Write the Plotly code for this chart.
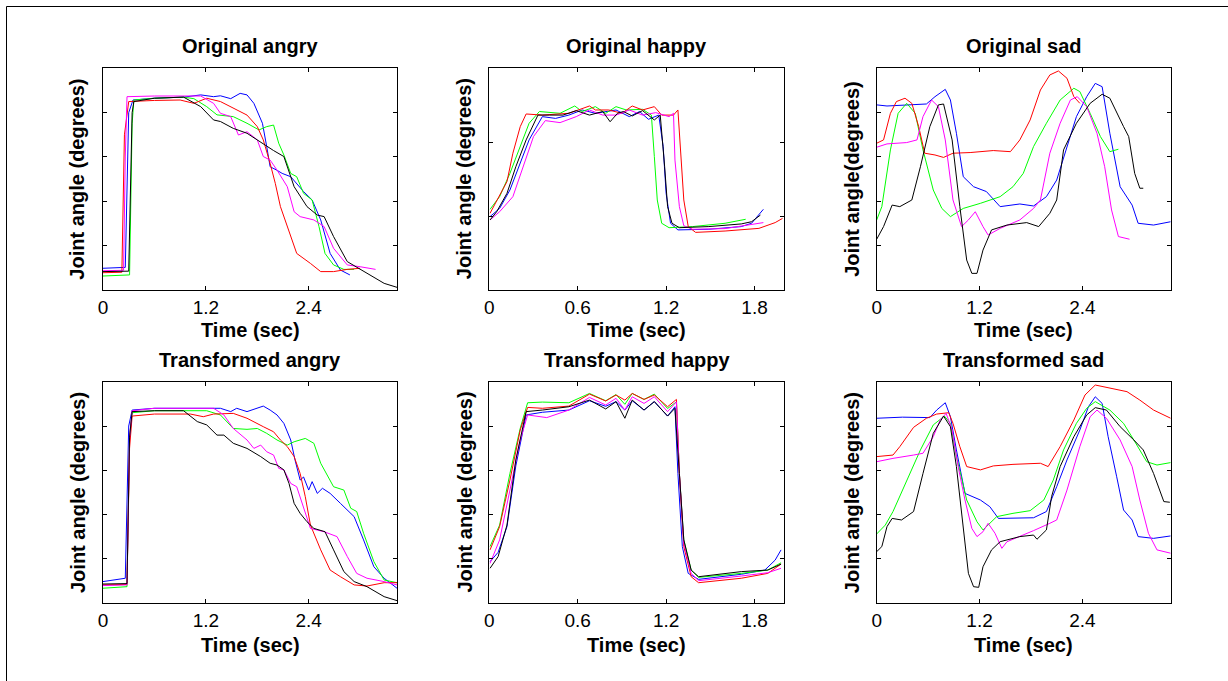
import plotly.graph_objects as go

W, H = 1228, 681

# ---------------- DATA (time in sec, joint angle in % of axis span) ----------------
# Original angry
OA_BLACK_T = [0, 0.30, 0.34, 0.36, 0.60, 0.94, 1.14, 1.29, 1.37, 1.52, 1.68, 1.91, 1.99, 2.11, 2.23, 2.38, 2.50, 2.58, 2.69, 2.85, 3.08, 3.28, 3.43]
OA_BLACK_V = [8.3, 8.5, 80, 85, 86.5, 87, 82.7, 76.7, 76.0, 72.9, 70.7, 64.7, 62.9, 60.2, 46.6, 37.6, 33.8, 33.1, 24.1, 12.8, 7.5, 3.0, 1.2]
OA_BLUE_T = [0, 0.26, 0.30, 0.35, 0.60, 0.94, 1.14, 1.29, 1.37, 1.49, 1.60, 1.68, 1.76, 1.86, 1.91, 1.95, 2.03, 2.09, 2.19, 2.26, 2.34, 2.44, 2.54, 2.65, 2.77, 2.88]
OA_BLUE_V = [9.8, 10.2, 80, 85.7, 86.5, 87, 88, 87.2, 87.6, 86.3, 88.7, 88, 84.2, 75.2, 64.7, 55.6, 54, 52.6, 51.1, 48, 44.4, 40.6, 31.6, 16.5, 9.0, 6.8]
OA_RED_T = [0, 0.22, 0.25, 0.30, 0.60, 0.90, 1.06, 1.21, 1.37, 1.52, 1.68, 1.80, 1.87, 1.95, 2.01, 2.07, 2.15, 2.26, 2.42, 2.54, 2.69, 2.85, 3.00]
OA_RED_V = [7.8, 8.0, 70, 85, 85.5, 85.7, 84.2, 86.5, 85, 82, 78.9, 73.7, 67.7, 57.1, 48.1, 37.6, 28.6, 16.5, 12.0, 8.3, 8.3, 9.3, 9.8]
OA_GREEN_T = [0, 0.31, 0.34, 0.36, 0.60, 0.94, 1.06, 1.21, 1.33, 1.52, 1.68, 1.82, 1.91, 1.99, 2.05, 2.11, 2.19, 2.26, 2.34, 2.44, 2.52, 2.59, 2.69, 2.81, 2.93]
OA_GREEN_V = [6.3, 6.8, 75, 85.7, 86.5, 87, 86.3, 82.7, 79, 78.2, 75.2, 72.2, 73.7, 74.4, 66.2, 60.9, 52.6, 51.1, 43.6, 40.6, 28.6, 16.5, 11.3, 9.3, 9.3]
OA_MAG_T = [0, 0.24, 0.26, 0.28, 0.60, 1.14, 1.29, 1.37, 1.49, 1.58, 1.68, 1.80, 1.87, 1.95, 2.03, 2.15, 2.23, 2.30, 2.46, 2.58, 2.69, 2.85, 3.00, 3.18]
OA_MAG_V = [8.7, 8.9, 60, 87.2, 87.5, 87.5, 84.2, 79.7, 78.2, 69.9, 71.4, 67.7, 60.2, 58.6, 54.1, 46.6, 35.3, 33.1, 31.6, 28.6, 18.8, 11.3, 10.5, 9.3]

# Transformed angry
TA_BLACK_T = [0, 0.28, 0.31, 0.34, 0.60, 0.94, 1.10, 1.21, 1.33, 1.41, 1.52, 1.68, 1.84, 1.95, 2.03, 2.11, 2.17, 2.23, 2.30, 2.38, 2.46, 2.59, 2.69, 2.81, 2.93, 3.08, 3.28, 3.43]
TA_BLACK_V = [8.7, 8.9, 75, 86.5, 86.9, 86.9, 82, 80.5, 75.9, 75.9, 72.2, 69.9, 66.2, 63.2, 62.4, 60.2, 54.1, 45.1, 40.6, 36.8, 33.8, 32.3, 24.1, 14.3, 9.8, 7.5, 3.0, 1.2]
TA_BLUE_T = [0, 0.26, 0.30, 0.34, 0.60, 1.00, 1.37, 1.49, 1.56, 1.68, 1.80, 1.87, 1.95, 2.03, 2.11, 2.19, 2.24, 2.30, 2.34, 2.40, 2.44, 2.50, 2.56, 2.65, 2.77, 2.93, 3.04, 3.16, 3.28, 3.43]
TA_BLUE_V = [9.8, 11.3, 80, 87.2, 88, 88, 88, 86.5, 88, 86.5, 88, 89, 87.2, 85, 81.2, 73.7, 64.7, 55.6, 57, 51.1, 54.9, 49.6, 51.9, 49.6, 45.1, 39.1, 28.6, 16.5, 11.3, 6.8]
TA_RED_T = [0, 0.28, 0.31, 0.34, 0.60, 1.02, 1.17, 1.29, 1.52, 1.68, 1.87, 1.99, 2.07, 2.15, 2.23, 2.30, 2.36, 2.42, 2.54, 2.65, 2.77, 2.93, 3.08, 3.28, 3.43]
TA_RED_V = [8.3, 8.5, 70, 84.5, 85.4, 85.4, 84.2, 85.4, 85.7, 83.5, 79.7, 77.4, 73.7, 70.7, 66.2, 58.6, 48.1, 35.3, 24.1, 15.0, 12.0, 8.3, 7.8, 9.3, 9.3]
TA_GREEN_T = [0, 0.28, 0.31, 0.34, 0.60, 1.21, 1.37, 1.52, 1.68, 1.80, 1.91, 2.03, 2.15, 2.23, 2.36, 2.46, 2.54, 2.65, 2.69, 2.81, 2.89, 2.96, 3.04, 3.16, 3.28, 3.43]
TA_GREEN_V = [6.8, 7.5, 75, 86, 86.9, 86.9, 85, 78.9, 78.5, 78.9, 76.7, 73.7, 71.4, 72.9, 74.4, 72.2, 63.2, 55.6, 52.6, 51.1, 42.9, 41.4, 31.6, 18.8, 10.5, 9.3]
TA_MAG_T = [0, 0.28, 0.31, 0.34, 0.60, 1.29, 1.41, 1.52, 1.68, 1.76, 1.84, 1.91, 1.99, 2.05, 2.11, 2.19, 2.26, 2.34, 2.42, 2.58, 2.73, 2.85, 2.96, 3.08, 3.28, 3.43]
TA_MAG_V = [8.0, 8.3, 75, 86.9, 88, 88, 85, 78.9, 73.7, 69.9, 71.4, 68.4, 66.9, 60.9, 60.2, 54.1, 52.6, 43.6, 33.8, 32.3, 30.1, 21.1, 13.5, 11.3, 9.8, 8.3]

# Original happy
OH_BLACK_T = [0.005, 0.05, 0.12, 0.18, 0.25, 0.33, 0.41, 0.50, 0.59, 0.68, 0.77, 0.82, 0.87, 0.91, 0.97, 1.04, 1.12, 1.16, 1.19, 1.21, 1.24, 1.29, 1.49, 1.71, 1.78, 1.84]
OH_BLACK_V = [31.6, 35.3, 43.6, 55.6, 67.7, 78.9, 78.9, 78.9, 80.9, 78.9, 80.5, 75.9, 79.7, 80.5, 78.5, 80.9, 76.7, 78.9, 55.6, 37.6, 30.1, 28.1, 28.6, 29.8, 30.8, 33.8]
OH_BLUE_T = [0.005, 0.07, 0.14, 0.21, 0.27, 0.36, 0.45, 0.54, 0.63, 0.72, 0.86, 0.95, 1.02, 1.08, 1.15, 1.18, 1.20, 1.23, 1.28, 1.49, 1.71, 1.78, 1.86]
OH_BLUE_V = [33.1, 36.8, 45.1, 57.1, 67.7, 78.2, 77.4, 78.9, 81.2, 79.7, 81.2, 78.2, 80.5, 77.0, 78.9, 64.7, 43.6, 30.1, 27.1, 27.4, 28.6, 30.1, 36.4]
OH_RED_T = [0.005, 0.07, 0.12, 0.16, 0.21, 0.25, 0.36, 0.54, 0.68, 0.72, 0.81, 0.90, 0.97, 1.04, 1.12, 1.17, 1.25, 1.28, 1.30, 1.32, 1.35, 1.40, 1.60, 1.83, 1.94, 1.99]
OH_RED_V = [34.6, 42.9, 48.9, 61.7, 73.7, 79.4, 78.9, 79.7, 83.0, 81.2, 81.2, 79.7, 83.0, 81.2, 82.7, 78.9, 78.9, 81.2, 63.2, 40.6, 28.6, 26.0, 26.6, 27.8, 30.4, 32.3]
OH_GREEN_T = [0.005, 0.07, 0.14, 0.21, 0.27, 0.34, 0.48, 0.58, 0.63, 0.72, 0.79, 0.86, 0.93, 1.04, 1.10, 1.12, 1.14, 1.17, 1.22, 1.38, 1.60, 1.74]
OH_GREEN_V = [36.4, 42.1, 52.6, 64.7, 75.2, 80.5, 79.7, 83.0, 80.5, 82.7, 79.7, 82.7, 81.2, 81.5, 78.9, 60.2, 40.6, 30.1, 28.1, 28.6, 30.1, 31.9]
OH_MAG_T = [0.005, 0.07, 0.16, 0.23, 0.30, 0.38, 0.48, 0.59, 0.68, 0.77, 0.86, 0.95, 1.04, 1.13, 1.22, 1.25, 1.26, 1.29, 1.32, 1.38, 1.60, 1.86]
OH_MAG_V = [31.6, 35.3, 42.1, 55.6, 69.2, 76.4, 75.5, 78.2, 81.2, 78.9, 78.9, 81.2, 78.9, 80, 78.2, 79.7, 58.6, 37.6, 29.0, 27.4, 27.7, 30.4]

# Transformed happy
TH_BLACK_T = [0.005, 0.06, 0.12, 0.18, 0.25, 0.36, 0.54, 0.68, 0.79, 0.86, 0.92, 0.97, 1.05, 1.12, 1.21, 1.26, 1.29, 1.32, 1.37, 1.42, 1.71, 1.89, 1.98]
TH_BLACK_V = [15.8, 21.1, 35.3, 64.7, 86.5, 87.2, 88.7, 91.7, 87.7, 91.0, 83.5, 91.7, 87.2, 91.0, 84.5, 88.0, 58.6, 28.6, 15.0, 12.0, 14.3, 15.0, 17.7]
TH_BLUE_T = [0.005, 0.06, 0.12, 0.18, 0.25, 0.36, 0.54, 0.68, 0.79, 0.86, 0.92, 0.97, 1.05, 1.12, 1.21, 1.26, 1.28, 1.31, 1.35, 1.42, 1.71, 1.87, 1.94, 1.98]
TH_BLUE_V = [18.8, 23, 34.6, 62, 85.0, 86.2, 87.2, 91.4, 88.9, 91.0, 87.2, 91.4, 87.2, 91.0, 84.5, 88.7, 58.6, 25.6, 13.5, 10.8, 13.1, 15.0, 19.5, 24.1]
TH_RED_T = [0.005, 0.07, 0.14, 0.21, 0.26, 0.36, 0.54, 0.68, 0.79, 0.86, 0.92, 0.97, 1.05, 1.12, 1.21, 1.27, 1.29, 1.32, 1.37, 1.42, 1.71, 1.89, 1.98]
TH_RED_V = [24.1, 34.6, 55.6, 78.2, 88.4, 88.0, 89.0, 94.4, 91.3, 94.0, 91.7, 94.7, 92.0, 94.0, 88.7, 92.0, 58.6, 25.6, 12.0, 9.3, 11.3, 13.5, 17.7]
TH_GREEN_T = [0.005, 0.07, 0.14, 0.21, 0.26, 0.36, 0.54, 0.68, 0.79, 0.86, 0.92, 0.97, 1.05, 1.12, 1.21, 1.27, 1.29, 1.32, 1.37, 1.42, 1.71, 1.89, 1.98]
TH_GREEN_V = [25.6, 35.3, 58.6, 79.0, 90.5, 90.8, 90.5, 94.7, 91.4, 94.2, 89.8, 94.7, 92.0, 94.4, 87.9, 90.9, 58.6, 28.6, 15.0, 11.7, 13.5, 15.0, 18.3]
TH_MAG_T = [0.005, 0.07, 0.14, 0.21, 0.26, 0.39, 0.54, 0.68, 0.79, 0.86, 0.92, 0.97, 1.05, 1.12, 1.21, 1.27, 1.29, 1.32, 1.37, 1.42, 1.71, 1.89, 1.98]
TH_MAG_V = [18.0, 28.6, 51.1, 73.7, 85.0, 83.8, 87.2, 92.9, 89.5, 92.5, 87.2, 93.2, 90.2, 93.2, 86.5, 90.9, 58.6, 27.1, 13.5, 10.2, 12.3, 13.8, 15.8]

# Original sad
OS_BLUE_T = [0, 0.12, 0.58, 0.68, 0.80, 0.86, 0.93, 1.01, 1.13, 1.28, 1.44, 1.67, 1.83, 1.98, 2.10, 2.22, 2.33, 2.45, 2.55, 2.63, 2.72, 2.84, 2.98, 3.05, 3.23, 3.43]
OS_BLUE_V = [83.5, 83.0, 83.9, 87.2, 90.5, 85.7, 70.7, 51.1, 46.6, 44.4, 37.6, 38.8, 37.9, 42.1, 49.6, 64.7, 78.2, 87.2, 93.2, 91.7, 70.7, 46.6, 38.3, 30.1, 29.3, 30.8]
OS_RED_T = [0, 0.08, 0.16, 0.23, 0.33, 0.41, 0.49, 0.56, 0.68, 0.78, 0.89, 1.09, 1.36, 1.56, 1.67, 1.79, 1.91, 2.02, 2.12, 2.22, 2.30, 2.37]
OS_RED_V = [66.2, 67.7, 79.7, 85.0, 86.5, 84.2, 73.7, 61.7, 60.9, 59.8, 61.7, 62.0, 62.9, 62.4, 67.7, 76.7, 90.2, 97.0, 98.8, 95.5, 87.2, 84.2]
OS_GREEN_T = [0, 0.06, 0.16, 0.25, 0.35, 0.45, 0.54, 0.66, 0.76, 0.86, 1.01, 1.21, 1.44, 1.59, 1.71, 1.83, 1.98, 2.14, 2.30, 2.37, 2.49, 2.61, 2.72, 2.82]
OS_GREEN_V = [31.6, 37.6, 63.2, 79.7, 84.2, 79.7, 63.2, 45.1, 36.8, 33.1, 36.8, 39.1, 42.1, 46.6, 52.6, 64.7, 75.2, 85.7, 91.0, 89.5, 79.7, 69.2, 62.4, 63.5]
OS_MAG_T = [0, 0.12, 0.35, 0.47, 0.54, 0.64, 0.72, 0.80, 0.89, 0.99, 1.07, 1.15, 1.24, 1.30, 1.44, 1.67, 1.83, 1.91, 2.02, 2.14, 2.26, 2.34, 2.45, 2.57, 2.66, 2.74, 2.82, 2.95]
OS_MAG_V = [64.4, 65.9, 66.5, 67.7, 78.2, 85.7, 82.7, 67.7, 40.6, 28.6, 31.6, 35.3, 28.6, 24.8, 27.8, 31.6, 36.8, 40.6, 61.7, 75.2, 85.7, 87.2, 82.7, 70.7, 55.6, 36.1, 24.1, 22.9]
OS_BLACK_T = [0, 0.08, 0.18, 0.27, 0.41, 0.51, 0.62, 0.72, 0.78, 0.88, 0.97, 1.05, 1.11, 1.17, 1.24, 1.34, 1.52, 1.75, 1.89, 2.02, 2.10, 2.18, 2.33, 2.49, 2.63, 2.72, 2.88, 2.94, 3.01, 3.07, 3.11]
OS_BLACK_V = [22.9, 28.6, 38.3, 37.6, 40.6, 55.6, 73.7, 83.5, 83.9, 67.7, 37.6, 13.5, 7.5, 7.5, 18.0, 27.1, 29.3, 30.4, 28.6, 34.6, 40.6, 63.2, 75.2, 84.2, 88.3, 86.5, 73.7, 69.2, 52.6, 45.9, 45.9]

# Transformed sad
TS_BLUE_T = [0, 0.30, 0.62, 0.70, 0.80, 0.86, 0.93, 1.03, 1.21, 1.32, 1.42, 1.59, 1.83, 1.98, 2.10, 2.22, 2.37, 2.47, 2.55, 2.63, 2.70, 2.80, 2.88, 2.98, 3.05, 3.23, 3.43]
TS_BLUE_V = [83.5, 84.0, 83.8, 87.2, 90.5, 84.2, 69.2, 49.6, 46.6, 43.6, 38.3, 38.3, 38.6, 41.4, 52.6, 64.7, 78.2, 88.7, 93.2, 90.2, 75.2, 57.1, 42.1, 37.6, 30.1, 29.3, 30.4]
TS_RED_T = [0, 0.19, 0.27, 0.43, 0.58, 0.70, 0.84, 0.89, 0.97, 1.05, 1.21, 1.36, 1.59, 1.91, 2.00, 2.14, 2.30, 2.43, 2.55, 2.72, 2.92, 3.07, 3.23, 3.43]
TS_RED_V = [66.2, 66.9, 70.7, 79.4, 83.5, 85.4, 86.0, 81.2, 70.7, 61.7, 60.2, 62.0, 62.7, 63.2, 61.7, 70.7, 82.7, 94.0, 98.5, 97.0, 95.5, 91.7, 87.2, 83.5]
TS_GREEN_T = [0, 0.10, 0.19, 0.35, 0.51, 0.66, 0.79, 0.86, 0.93, 1.05, 1.17, 1.24, 1.40, 1.59, 1.79, 1.95, 2.06, 2.18, 2.33, 2.45, 2.55, 2.72, 2.88, 3.00, 3.15, 3.27, 3.43]
TS_GREEN_V = [31.3, 35.3, 41.4, 55.6, 69.2, 80.5, 84.5, 81.2, 66.2, 46.6, 36.8, 33.1, 39.1, 40.6, 41.8, 46.6, 55.6, 69.2, 81.2, 88.0, 91.0, 87.2, 81.2, 73.7, 63.9, 62.4, 63.5]
TS_MAG_T = [0, 0.19, 0.43, 0.54, 0.66, 0.74, 0.81, 0.88, 0.95, 1.03, 1.11, 1.17, 1.24, 1.30, 1.38, 1.46, 1.52, 1.67, 1.83, 2.02, 2.10, 2.22, 2.37, 2.49, 2.57, 2.68, 2.84, 2.98, 3.07, 3.17, 3.27, 3.43]
TS_MAG_V = [63.9, 65.4, 66.9, 67.7, 75.2, 82.7, 85.7, 78.2, 61.7, 46.6, 33.8, 30.1, 32.3, 36.1, 31.6, 24.8, 27.8, 30.1, 32.8, 36.1, 37.6, 51.1, 70.7, 84.2, 87.2, 83.5, 73.7, 61.7, 46.6, 31.6, 24.1, 22.6]
TS_BLACK_T = [0, 0.06, 0.12, 0.18, 0.29, 0.43, 0.54, 0.66, 0.78, 0.86, 0.93, 1.01, 1.07, 1.13, 1.19, 1.24, 1.34, 1.44, 1.67, 1.83, 1.87, 1.98, 2.04, 2.14, 2.30, 2.45, 2.55, 2.68, 2.84, 3.00, 3.11, 3.23, 3.35, 3.42]
TS_BLACK_V = [23.3, 25.6, 34.6, 38.3, 37.6, 41.4, 58.6, 76.7, 84.5, 79.7, 61.7, 33.1, 13.5, 7.5, 7.2, 16.5, 24.1, 27.8, 30.1, 30.8, 28.9, 33.1, 48.1, 61.7, 75.2, 85.0, 88.3, 87.2, 79.7, 73.7, 69.2, 58.6, 45.9, 45.6]

TITLES = ["Original angry", "Original happy", "Original sad",
          "Transformed angry", "Transformed happy", "Transformed sad"]
YLABELS = ["Joint angle (degrees)", "Joint angle (degrees)", "Joint angle(degrees)",
           "Joint angle (degrees)", "Joint angle (degrees)", "Joint angle (degrees)"]
XLABEL = "Time (sec)"
ANG_SAD_XTICKS = [0, 1.2, 2.4]
HAPPY_XTICKS = [0, 0.6, 1.2, 1.8]
XRANGE_LONG = [0, 3.43]
XRANGE_HAPPY = [0, 2.0]
YTICKS_5 = [20, 40, 60, 80]
YTICKS_3 = [100 / 3, 200 / 3]

COLORS = {"blue": "#0000ff", "red": "#ff0000", "green": "#00ff00", "magenta": "#ff00ff", "black": "#000000"}

panels = [
    {"series": [("blue", OA_BLUE_T, OA_BLUE_V), ("green", OA_GREEN_T, OA_GREEN_V), ("red", OA_RED_T, OA_RED_V),
                ("magenta", OA_MAG_T, OA_MAG_V), ("black", OA_BLACK_T, OA_BLACK_V)],
     "xr": XRANGE_LONG, "xt": ANG_SAD_XTICKS, "yt": YTICKS_5},
    {"series": [("blue", OH_BLUE_T, OH_BLUE_V), ("green", OH_GREEN_T, OH_GREEN_V), ("red", OH_RED_T, OH_RED_V),
                ("magenta", OH_MAG_T, OH_MAG_V), ("black", OH_BLACK_T, OH_BLACK_V)],
     "xr": XRANGE_HAPPY, "xt": HAPPY_XTICKS, "yt": YTICKS_3},
    {"series": [("blue", OS_BLUE_T, OS_BLUE_V), ("green", OS_GREEN_T, OS_GREEN_V), ("red", OS_RED_T, OS_RED_V),
                ("magenta", OS_MAG_T, OS_MAG_V), ("black", OS_BLACK_T, OS_BLACK_V)],
     "xr": XRANGE_LONG, "xt": ANG_SAD_XTICKS, "yt": YTICKS_5},
    {"series": [("blue", TA_BLUE_T, TA_BLUE_V), ("green", TA_GREEN_T, TA_GREEN_V), ("red", TA_RED_T, TA_RED_V),
                ("magenta", TA_MAG_T, TA_MAG_V), ("black", TA_BLACK_T, TA_BLACK_V)],
     "xr": XRANGE_LONG, "xt": ANG_SAD_XTICKS, "yt": YTICKS_5},
    {"series": [("blue", TH_BLUE_T, TH_BLUE_V), ("green", TH_GREEN_T, TH_GREEN_V), ("red", TH_RED_T, TH_RED_V),
                ("magenta", TH_MAG_T, TH_MAG_V), ("black", TH_BLACK_T, TH_BLACK_V)],
     "xr": XRANGE_HAPPY, "xt": HAPPY_XTICKS, "yt": YTICKS_5},
    {"series": [("blue", TS_BLUE_T, TS_BLUE_V), ("green", TS_GREEN_T, TS_GREEN_V), ("red", TS_RED_T, TS_RED_V),
                ("magenta", TS_MAG_T, TS_MAG_V), ("black", TS_BLACK_T, TS_BLACK_V)],
     "xr": XRANGE_LONG, "xt": ANG_SAD_XTICKS, "yt": YTICKS_5},
]

# ---------------- LAYOUT (pixel geometry) ----------------
COL_X = [(103, 397), (489.3, 784), (876.7, 1170.7)]
ROW_Y = [(68.3, 290), (381.7, 603.3)]
TITLE_Y = [46.5, 360]
XLABEL_Y = [330, 645]
YLABEL_X = [77.5, 464, 851.7]

FONT = "Liberation Sans, Arial, sans-serif"


def px(x):
    return x / W


def py(y):
    return 1 - y / H


fig = go.Figure()
annotations = []
layout = {}

for i, p in enumerate(panels):
    r, c = divmod(i, 3)
    n = i + 1
    xa = "x" if n == 1 else f"x{n}"
    ya = "y" if n == 1 else f"y{n}"
    for cname, t, v in p["series"]:
        fig.add_trace(go.Scatter(x=t, y=v, mode="lines", xaxis=xa, yaxis=ya,
                                 line=dict(color=COLORS[cname], width=1), showlegend=False,
                                 hoverinfo="skip"))
    x0, x1 = COL_X[c]
    y0, y1 = ROW_Y[r]
    common = dict(showgrid=False, zeroline=False, showline=True, linecolor="black", linewidth=1,
                  mirror="ticks", ticks="inside", ticklen=4, tickcolor="black", tickwidth=1,
                  automargin=False)
    layout[f"xaxis{'' if n == 1 else n}"] = dict(
        domain=[px(x0), px(x1)], range=p["xr"], tickmode="array", tickvals=p["xt"],
        ticktext=[f"{v:g}" for v in p["xt"]], anchor=ya,
        tickfont=dict(family=FONT, size=19, color="black"), **common)
    layout[f"yaxis{'' if n == 1 else n}"] = dict(
        domain=[py(y1), py(y0)], range=[0, 100], tickmode="array", tickvals=p["yt"],
        showticklabels=False, anchor=xa, **common)
    xc = (x0 + x1) / 2
    annotations.append(dict(text=f"<b>{TITLES[i]}</b>", x=px(xc), y=py(TITLE_Y[r]), xref="paper", yref="paper",
                            showarrow=False, xanchor="center", yanchor="middle",
                            font=dict(family=FONT, size=20, color="black")))
    annotations.append(dict(text=f"<b>{XLABEL}</b>", x=px(xc), y=py(XLABEL_Y[r]), xref="paper", yref="paper",
                            showarrow=False, xanchor="center", yanchor="middle",
                            font=dict(family=FONT, size=20, color="black")))
    annotations.append(dict(text=f"<b>{YLABELS[i]}</b>", x=px(YLABEL_X[c]), y=py((y0 + y1) / 2),
                            xref="paper", yref="paper", showarrow=False, textangle=-90,
                            xanchor="center", yanchor="middle",
                            font=dict(family=FONT, size=20, color="black")))

shapes = [
    dict(type="line", xref="paper", yref="paper", x0=px(6.5), y0=py(6.5), x1=1, y1=py(6.5),
         line=dict(color="black", width=1)),
    dict(type="line", xref="paper", yref="paper", x0=px(6.5), y0=py(6.5), x1=px(6.5), y1=0,
         line=dict(color="black", width=1)),
]

fig.update_layout(width=W, height=H, margin=dict(l=0, r=0, t=0, b=0, pad=0, autoexpand=False),
                  paper_bgcolor="white", plot_bgcolor="white", showlegend=False,
                  annotations=annotations, shapes=shapes, **layout)

fig.write_html("out.html")
